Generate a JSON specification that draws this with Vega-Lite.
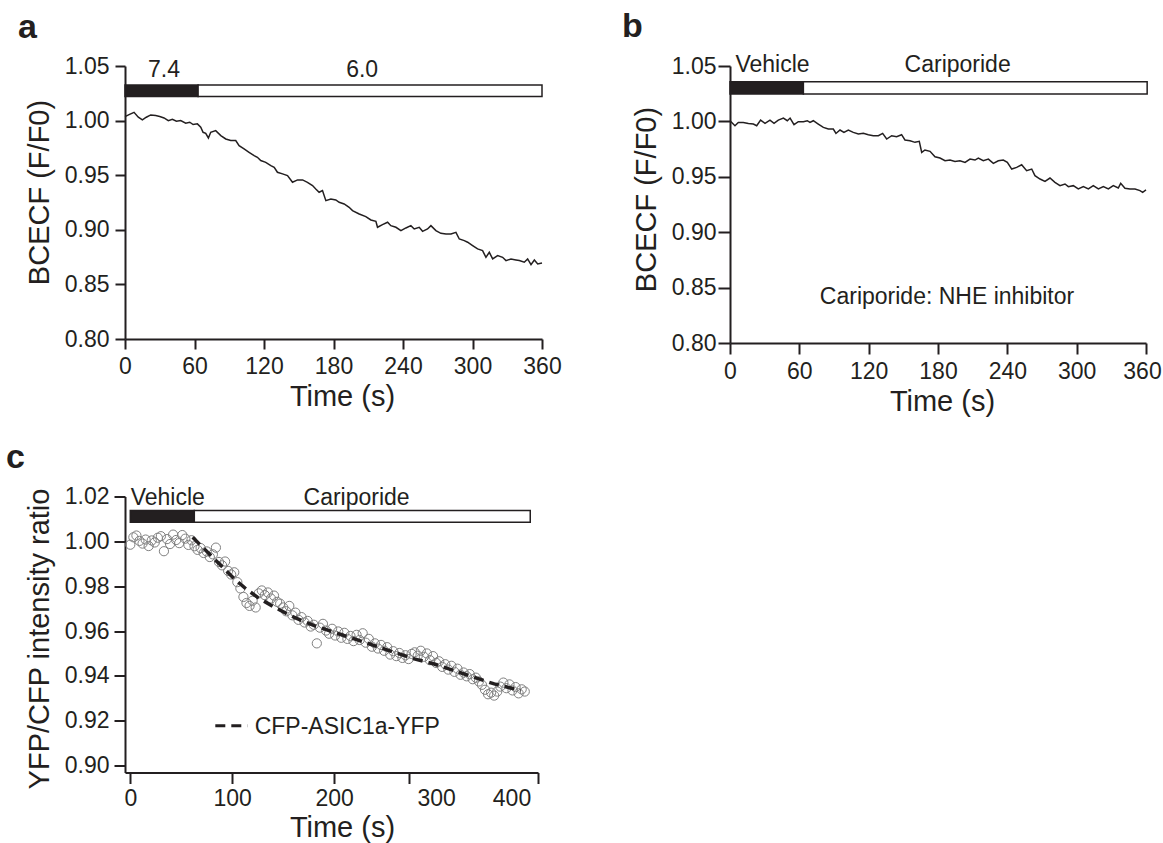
{
  "$schema": "https://vega.github.io/schema/vega-lite/v6.json",
  "background": "white",
  "padding": {"left": 6, "top": 9, "right": 2, "bottom": 2},
  "config": {
    "view": {"stroke": null},
    "font": "Liberation Sans",
    "axis": {
      "grid": false,
      "domainColor": "#231f20",
      "domainWidth": 2,
      "tickColor": "#231f20",
      "tickWidth": 2,
      "tickSize": 10,
      "labelFont": "Liberation Sans",
      "labelFontSize": 23,
      "labelColor": "#231f20",
      "labelPadding": 6,
      "labelFlush": false,
      "labelOverlap": false,
      "titleFont": "Liberation Sans",
      "titleFontSize": 29,
      "titleFontWeight": "normal",
      "titleColor": "#231f20"
    },
    "axisX": {"titleFontSize": 29, "titlePadding": 4},
    "axisY": {"titlePadding": 10},
    "title": {"font": "Liberation Sans", "fontSize": 34, "fontWeight": "bold", "color": "#231f20", "anchor": "start", "frame": "group", "baseline": "alphabetic"}
  },
  "datasets": {
    "traceA": [
      {"t":0,"v":1.0037},{"t":3.5,"v":1.0055},{"t":7.8,"v":1.0076},{"t":11.5,"v":1.0031},{"t":15.0,"v":1.0006},{"t":18.4,"v":1.0031},{"t":22.2,"v":1.0052},{"t":26.5,"v":1.0046},{"t":30.0,"v":1.0037},{"t":33.7,"v":1.0024},{"t":37.4,"v":1.0000},{"t":40.9,"v":1.0012},{"t":44.4,"v":0.9994},{"t":48.1,"v":1.0000},{"t":52.4,"v":0.9976},{"t":55.9,"v":0.9985},{"t":58.8,"v":0.9964},{"t":62.5,"v":0.9970},{"t":65.4,"v":0.9939},{"t":67.4,"v":0.9893},{"t":69.7,"v":0.9884},{"t":72.0,"v":0.9841},{"t":74.0,"v":0.9893},{"t":78.3,"v":0.9908},{"t":82.7,"v":0.9863},{"t":87.0,"v":0.9832},{"t":91.3,"v":0.9817},{"t":95.6,"v":0.9817},{"t":98.5,"v":0.9771},{"t":102.8,"v":0.9740},{"t":107.1,"v":0.9710},{"t":111.5,"v":0.9679},{"t":114.3,"v":0.9664},{"t":117.2,"v":0.9634},{"t":121.5,"v":0.9618},{"t":125.9,"v":0.9588},{"t":128.8,"v":0.9573},{"t":131.6,"v":0.9527},{"t":136.0,"v":0.9512},{"t":140.3,"v":0.9496},{"t":144.6,"v":0.9435},{"t":149.0,"v":0.9457},{"t":153.3,"v":0.9457},{"t":157.5,"v":0.9435},{"t":161.9,"v":0.9405},{"t":164.7,"v":0.9374},{"t":167.6,"v":0.9344},{"t":170.5,"v":0.9359},{"t":173.4,"v":0.9267},{"t":177.7,"v":0.9282},{"t":182.0,"v":0.9273},{"t":184.9,"v":0.9252},{"t":189.2,"v":0.9237},{"t":193.5,"v":0.9206},{"t":196.4,"v":0.9176},{"t":202.2,"v":0.9145},{"t":207.9,"v":0.9121},{"t":212.3,"v":0.9090},{"t":216.6,"v":0.9078},{"t":218.0,"v":0.9023},{"t":222.3,"v":0.9047},{"t":226.7,"v":0.9069},{"t":229.5,"v":0.9038},{"t":233.9,"v":0.9023},{"t":238.2,"v":0.8993},{"t":242.5,"v":0.9017},{"t":246.8,"v":0.9038},{"t":249.7,"v":0.9008},{"t":254.0,"v":0.9023},{"t":256.9,"v":0.8986},{"t":261.2,"v":0.9008},{"t":264.1,"v":0.9038},{"t":268.4,"v":0.8993},{"t":272.7,"v":0.8968},{"t":277.1,"v":0.8962},{"t":281.4,"v":0.8962},{"t":285.7,"v":0.8977},{"t":288.6,"v":0.8916},{"t":292.9,"v":0.8901},{"t":295.8,"v":0.8886},{"t":300.1,"v":0.8855},{"t":304.4,"v":0.8825},{"t":308.7,"v":0.8809},{"t":311.6,"v":0.8748},{"t":314.5,"v":0.8794},{"t":317.4,"v":0.8733},{"t":321.7,"v":0.8764},{"t":326.0,"v":0.8748},{"t":328.9,"v":0.8718},{"t":333.2,"v":0.8733},{"t":337.5,"v":0.8724},{"t":340.4,"v":0.8718},{"t":344.7,"v":0.8703},{"t":347.6,"v":0.8733},{"t":350.5,"v":0.8681},{"t":353.4,"v":0.8724},{"t":356.3,"v":0.8687},{"t":360.0,"v":0.8696}
    ],
    "traceB": [
      {"t":0,"v":1.0006},{"t":4.3,"v":0.9961},{"t":7.2,"v":0.9991},{"t":11.5,"v":0.9991},{"t":15.9,"v":0.9982},{"t":20.2,"v":0.9976},{"t":23.1,"v":0.9961},{"t":26.5,"v":1.0012},{"t":30.3,"v":0.9982},{"t":34.6,"v":1.0012},{"t":38.1,"v":0.9982},{"t":41.8,"v":1.0012},{"t":46.2,"v":1.0030},{"t":49.6,"v":1.0006},{"t":52.0,"v":1.0030},{"t":55.4,"v":0.9970},{"t":59.1,"v":0.9997},{"t":63.5,"v":0.9997},{"t":66.9,"v":1.0006},{"t":69.2,"v":0.9991},{"t":72.1,"v":1.0006},{"t":76.4,"v":0.9976},{"t":80.8,"v":0.9946},{"t":85.1,"v":0.9931},{"t":89.4,"v":0.9931},{"t":91.7,"v":0.9891},{"t":95.2,"v":0.9922},{"t":98.6,"v":0.9901},{"t":102.4,"v":0.9922},{"t":106.7,"v":0.9901},{"t":111.1,"v":0.9886},{"t":115.4,"v":0.9892},{"t":119.7,"v":0.9880},{"t":124.0,"v":0.9871},{"t":128.4,"v":0.9871},{"t":132.1,"v":0.9892},{"t":135.6,"v":0.9841},{"t":139.9,"v":0.9871},{"t":144.2,"v":0.9862},{"t":148.5,"v":0.9880},{"t":151.4,"v":0.9832},{"t":155.8,"v":0.9826},{"t":160.1,"v":0.9811},{"t":163.8,"v":0.9820},{"t":165.9,"v":0.9720},{"t":168.7,"v":0.9742},{"t":173.1,"v":0.9730},{"t":177.4,"v":0.9681},{"t":181.7,"v":0.9669},{"t":186.1,"v":0.9645},{"t":190.4,"v":0.9651},{"t":194.7,"v":0.9639},{"t":199.0,"v":0.9645},{"t":203.4,"v":0.9630},{"t":207.7,"v":0.9660},{"t":212.0,"v":0.9651},{"t":214.9,"v":0.9669},{"t":219.2,"v":0.9645},{"t":223.6,"v":0.9660},{"t":227.9,"v":0.9621},{"t":232.2,"v":0.9645},{"t":236.5,"v":0.9651},{"t":240.0,"v":0.9630},{"t":243.8,"v":0.9570},{"t":248.1,"v":0.9585},{"t":252.4,"v":0.9609},{"t":256.7,"v":0.9555},{"t":261.1,"v":0.9570},{"t":263.9,"v":0.9510},{"t":268.3,"v":0.9480},{"t":272.6,"v":0.9459},{"t":276.9,"v":0.9489},{"t":281.2,"v":0.9450},{"t":285.6,"v":0.9420},{"t":289.9,"v":0.9435},{"t":292.8,"v":0.9411},{"t":297.1,"v":0.9420},{"t":301.4,"v":0.9390},{"t":305.8,"v":0.9411},{"t":310.1,"v":0.9390},{"t":314.4,"v":0.9420},{"t":318.8,"v":0.9390},{"t":323.1,"v":0.9411},{"t":327.4,"v":0.9390},{"t":331.7,"v":0.9420},{"t":336.0,"v":0.9399},{"t":338.1,"v":0.9441},{"t":341.8,"v":0.9396},{"t":346.1,"v":0.9390},{"t":350.5,"v":0.9390},{"t":354.8,"v":0.9375},{"t":357.1,"v":0.9360},{"t":360.0,"v":0.9381}
    ],
    "pointsC": [
      {"t":0,"v":0.9985},{"t":3,"v":1.0018},{"t":6,"v":1.0026},{"t":9,"v":1.0002},{"t":12,"v":0.9990},{"t":15,"v":1.0008},{"t":18,"v":0.9979},{"t":21,"v":1.0004},{"t":24,"v":0.9995},{"t":27,"v":1.0016},{"t":30,"v":1.0023},{"t":33,"v":0.9956},{"t":36,"v":1.0010},{"t":39,"v":0.9988},{"t":42,"v":1.0030},{"t":45,"v":1.0006},{"t":48,"v":0.9992},{"t":51,"v":1.0028},{"t":54,"v":1.0012},{"t":57,"v":0.9984},{"t":60,"v":1.0005},{"t":63,"v":0.9978},{"t":66,"v":0.9962},{"t":69,"v":0.9970},{"t":72,"v":0.9948},{"t":75,"v":0.9955},{"t":78,"v":0.9930},{"t":81,"v":0.9942},{"t":84,"v":0.9972},{"t":87,"v":0.9908},{"t":90,"v":0.9893},{"t":93,"v":0.9910},{"t":96,"v":0.9868},{"t":99,"v":0.9852},{"t":102,"v":0.9862},{"t":105,"v":0.9818},{"t":108,"v":0.9790},{"t":111,"v":0.9752},{"t":114,"v":0.9725},{"t":117,"v":0.9712},{"t":120,"v":0.9735},{"t":123,"v":0.9705},{"t":126,"v":0.9768},{"t":129,"v":0.9781},{"t":132,"v":0.9760},{"t":135,"v":0.9772},{"t":138,"v":0.9745},{"t":141,"v":0.9758},{"t":144,"v":0.9730},{"t":147,"v":0.9722},{"t":150,"v":0.9705},{"t":153,"v":0.9688},{"t":156,"v":0.9712},{"t":159,"v":0.9670},{"t":162,"v":0.9682},{"t":165,"v":0.9650},{"t":168,"v":0.9662},{"t":171,"v":0.9638},{"t":174,"v":0.9645},{"t":177,"v":0.9620},{"t":180,"v":0.9628},{"t":183,"v":0.9545},{"t":186,"v":0.9615},{"t":189,"v":0.9632},{"t":192,"v":0.9602},{"t":195,"v":0.9588},{"t":198,"v":0.9610},{"t":201,"v":0.9580},{"t":204,"v":0.9598},{"t":207,"v":0.9570},{"t":210,"v":0.9592},{"t":213,"v":0.9565},{"t":216,"v":0.9578},{"t":219,"v":0.9555},{"t":222,"v":0.9583},{"t":225,"v":0.9560},{"t":228,"v":0.9590},{"t":231,"v":0.9548},{"t":234,"v":0.9565},{"t":237,"v":0.9530},{"t":240,"v":0.9545},{"t":243,"v":0.9522},{"t":246,"v":0.9538},{"t":249,"v":0.9512},{"t":252,"v":0.9528},{"t":255,"v":0.9495},{"t":258,"v":0.9510},{"t":261,"v":0.9488},{"t":264,"v":0.9502},{"t":267,"v":0.9480},{"t":270,"v":0.9492},{"t":273,"v":0.9475},{"t":276,"v":0.9498},{"t":279,"v":0.9505},{"t":282,"v":0.9490},{"t":285,"v":0.9512},{"t":288,"v":0.9485},{"t":291,"v":0.9500},{"t":294,"v":0.9470},{"t":297,"v":0.9488},{"t":300,"v":0.9458},{"t":303,"v":0.9465},{"t":306,"v":0.9440},{"t":309,"v":0.9452},{"t":312,"v":0.9428},{"t":315,"v":0.9445},{"t":318,"v":0.9418},{"t":321,"v":0.9432},{"t":324,"v":0.9405},{"t":327,"v":0.9415},{"t":330,"v":0.9398},{"t":333,"v":0.9408},{"t":336,"v":0.9385},{"t":339,"v":0.9392},{"t":342,"v":0.9375},{"t":345,"v":0.9360},{"t":348,"v":0.9338},{"t":351,"v":0.9318},{"t":354,"v":0.9325},{"t":357,"v":0.9312},{"t":360,"v":0.9330},{"t":363,"v":0.9352},{"t":366,"v":0.9370},{"t":369,"v":0.9345},{"t":372,"v":0.9362},{"t":375,"v":0.9335},{"t":378,"v":0.9350},{"t":381,"v":0.9322},{"t":384,"v":0.9340},{"t":387,"v":0.9330}
    ],
    "fitC": [
      {"t":61.2,"v":1.0018},{"t":75.9,"v":0.9951},{"t":89.0,"v":0.9892},{"t":102.0,"v":0.9833},{"t":113.5,"v":0.9788},{"t":125.0,"v":0.9750},{"t":141.3,"v":0.9706},{"t":160.9,"v":0.9661},{"t":180.5,"v":0.9624},{"t":200.1,"v":0.9594},{"t":219.8,"v":0.9565},{"t":239.4,"v":0.9535},{"t":259.0,"v":0.9505},{"t":278.6,"v":0.9476},{"t":298.2,"v":0.9453},{"t":317.9,"v":0.9423},{"t":337.5,"v":0.9393},{"t":357.1,"v":0.9364},{"t":376.7,"v":0.9342},{"t":383.0,"v":0.9335}
    ],
    "barsA": [
      {"segment":"control","t":0,"t2":63.1,"v":1.022,"v2":1.0327},
      {"segment":"treatment","t":63.1,"t2":360,"v":1.022,"v2":1.0327}
    ],
    "barsB": [
      {"segment":"control","t":0,"t2":63.5,"v":1.0247,"v2":1.0358},
      {"segment":"treatment","t":63.5,"t2":361,"v":1.0247,"v2":1.0358}
    ],
    "barsC": [
      {"segment":"control","t":0,"t2":62.8,"v":1.0085,"v2":1.0138},
      {"segment":"treatment","t":62.8,"t2":392.4,"v":1.0085,"v2":1.0138}
    ],
    "textA": [
      {"t":33.7,"v":1.0403,"label":"7.4"},
      {"t":204.7,"v":1.0403,"label":"6.0"}
    ],
    "textB": [
      {"t":36.8,"v":1.0442,"label":"Vehicle"},
      {"t":197,"v":1.0442,"label":"Cariporide"},
      {"t":187.8,"v":0.8352,"label":"Cariporide: NHE inhibitor"}
    ],
    "textC": [
      {"t":36.7,"v":1.016,"label":"Vehicle"},
      {"t":222,"v":1.016,"label":"Cariporide"}
    ],
    "legendLineC": [
      {"t":83.4,"t2":115,"v":0.9178}
    ],
    "legendTextC": [
      {"t":122,"v":0.914,"label":"CFP-ASIC1a-YFP"}
    ]
  },
  "vconcat": [
    {
      "hconcat": [
        {
          "width": 417,
          "height": 273,
          "title": {"text": "a", "dx": -107, "offset": 10.5},
          "encoding": {
            "x": {"field": "t", "type": "quantitative", "title": "Time (s)",
                  "scale": {"domain": [0, 360], "nice": false},
                  "axis": {"values": [0, 60, 120, 180, 240, 300, 360], "titleX": 217}},
            "y": {"field": "v", "type": "quantitative", "title": "BCECF (F/F0)",
                  "scale": {"domain": [0.8, 1.05], "nice": false, "zero": false},
                  "axis": {"values": [0.8, 0.85, 0.9, 0.95, 1.0, 1.05], "format": ".2f", "titleY": 126}}
          },
          "layer": [
            {
              "data": {"name": "barsA"},
              "mark": {"type": "rect", "stroke": "#231f20", "strokeWidth": 1.5},
              "encoding": {
                "x2": {"field": "t2"},
                "y2": {"field": "v2"},
                "color": {"field": "segment", "type": "nominal", "legend": null,
                          "scale": {"domain": ["control", "treatment"], "range": ["#231f20", "#ffffff"]}}
              }
            },
            {
              "data": {"name": "traceA"},
              "mark": {"type": "line", "color": "#231f20", "strokeWidth": 1.5}
            },
            {
              "data": {"name": "textA"},
              "mark": {"type": "text", "font": "Liberation Sans", "fontSize": 23, "color": "#231f20", "align": "center", "baseline": "alphabetic"},
              "encoding": {"text": {"field": "label"}}
            }
          ]
        },
        {
          "width": 416,
          "height": 277,
          "title": {"text": "b", "dx": -108, "offset": 10.5},
          "encoding": {
            "x": {"field": "t", "type": "quantitative", "title": "Time (s)",
                  "scale": {"domain": [0, 360], "nice": false},
                  "axis": {"values": [0, 60, 120, 180, 240, 300, 360], "tickSize": 11, "titleX": 212,
                           "labelOffset": {"condition": {"test": "datum.value == 360", "value": -4}, "value": 0}}},
            "y": {"field": "v", "type": "quantitative", "title": "BCECF (F/F0)",
                  "scale": {"domain": [0.8, 1.05], "nice": false, "zero": false},
                  "axis": {"values": [0.8, 0.85, 0.9, 0.95, 1.0, 1.05], "format": ".2f", "tickSize": 12, "labelPadding": 2, "titleY": 133}}
          },
          "layer": [
            {
              "data": {"name": "barsB"},
              "mark": {"type": "rect", "stroke": "#231f20", "strokeWidth": 1.5},
              "encoding": {
                "x2": {"field": "t2"},
                "y2": {"field": "v2"},
                "color": {"field": "segment", "type": "nominal", "legend": null,
                          "scale": {"domain": ["control", "treatment"], "range": ["#231f20", "#ffffff"]}}
              }
            },
            {
              "data": {"name": "traceB"},
              "mark": {"type": "line", "color": "#231f20", "strokeWidth": 1.5}
            },
            {
              "data": {"name": "textB"},
              "mark": {"type": "text", "font": "Liberation Sans", "fontSize": 23, "color": "#231f20", "align": "center", "baseline": "alphabetic"},
              "encoding": {"text": {"field": "label"}}
            }
          ]
        }
      ],
      "spacing": 188,
      "bounds": "flush"
    },
    {
      "width": 413,
      "height": 276,
      "title": {"text": "c", "dx": -119, "offset": 10.5},
      "encoding": {
        "x": {"field": "t", "type": "quantitative", "title": "Time (s)",
              "scale": {"domain": [-5.2, 400], "nice": false, "zero": false},
              "axis": {
                "values": [0, 100, 200, 273, 300, 374, 400],
                "tickSize": 11,
                "labelPadding": 4,
                "titlePadding": 3,
                "titleX": 217,
                "labelExpr": "datum.value == 273 || datum.value == 400 ? '' : datum.value == 374 ? '400' : datum.label",
                "tickOpacity": {"condition": {"test": "datum.value == 300 || datum.value == 374", "value": 0}, "value": 1}
              }},
        "y": {"field": "v", "type": "quantitative", "title": "YFP/CFP intensity ratio",
              "scale": {"domain": [0.8969, 1.02], "nice": false, "zero": false},
              "axis": {"values": [0.9, 0.92, 0.94, 0.96, 0.98, 1.0, 1.02], "format": ".2f", "tickSize": 11, "labelPadding": 5, "titleY": 142}}
      },
      "layer": [
        {
          "data": {"name": "barsC"},
          "mark": {"type": "rect", "stroke": "#231f20", "strokeWidth": 1.5},
          "encoding": {
            "x2": {"field": "t2"},
            "y2": {"field": "v2"},
            "color": {"field": "segment", "type": "nominal", "legend": null,
                      "scale": {"domain": ["control", "treatment"], "range": ["#231f20", "#ffffff"]}}
          }
        },
        {
          "data": {"name": "pointsC"},
          "mark": {"type": "point", "shape": "circle", "filled": false, "size": 85, "stroke": "#808080", "strokeWidth": 1, "opacity": 1}
        },
        {
          "data": {"name": "fitC"},
          "mark": {"type": "line", "color": "#231f20", "strokeWidth": 3.5, "strokeDash": [10, 6]}
        },
        {
          "data": {"name": "legendLineC"},
          "mark": {"type": "rule", "color": "#231f20", "strokeWidth": 3, "strokeDash": [10, 6]},
          "encoding": {"x2": {"field": "t2"}}
        },
        {
          "data": {"name": "textC"},
          "mark": {"type": "text", "font": "Liberation Sans", "fontSize": 23, "color": "#231f20", "align": "center", "baseline": "alphabetic"},
          "encoding": {"text": {"field": "label"}}
        },
        {
          "data": {"name": "legendTextC"},
          "mark": {"type": "text", "font": "Liberation Sans", "fontSize": 23, "color": "#231f20", "align": "left", "baseline": "alphabetic"},
          "encoding": {"text": {"field": "label"}}
        }
      ]
    }
  ],
  "spacing": 430.5,
  "bounds": "flush"
}
